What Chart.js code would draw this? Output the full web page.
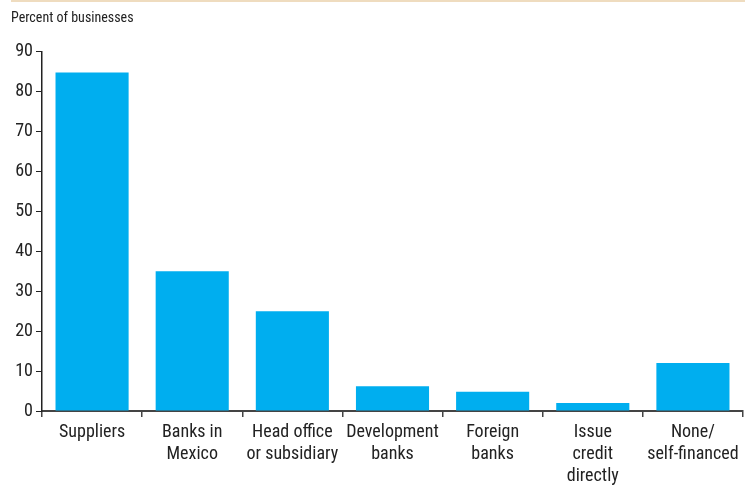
<!DOCTYPE html>
<html>
<head>
<meta charset="utf-8">
<script src="https://cdn.jsdelivr.net/npm/chart.js@4.4.0/dist/chart.umd.min.js"></script>
<style>
  html, body { margin: 0; padding: 0; background: #fff; }
  #wrap { position: relative; width: 745px; height: 485px; }
  #topline { position: absolute; left: 11px; right: 0; top: 0; height: 2px; background: #efdcbf; }
</style>
</head>
<body>
<div id="wrap">
  <div id="topline"></div>
  <canvas id="fundingChart" width="745" height="485"></canvas>
</div>
<script>
// Kategori etiketleri (çok satırlı)
const categories = [
    ['Suppliers'],
    ['Banks in', 'Mexico'],
    ['Head office', 'or subsidiary'],
    ['Development', 'banks'],
    ['Foreign', 'banks'],
    ['Issue', 'credit', 'directly'],
    ['None/', 'self-financed']
];
// Yüzde değerleri
const shares = [84.8, 35, 25, 6.2, 4.8, 2, 12];
const yTicks = [0, 10, 20, 30, 40, 50, 60, 70, 80, 90];

const fontFamily = '"Liberation Sans Narrow", "Roboto Condensed", "Liberation Sans", sans-serif';

function createFundingChart() {
    const ctx = document.getElementById('fundingChart');
    if (!ctx) return;
    new Chart(ctx, {
        type: 'bar',
        data: {
            labels: categories,
            datasets: [{
                label: 'Percent of businesses',
                data: shares,
                backgroundColor: '#00aeef',
                borderWidth: 0,
                categoryPercentage: 0.73,
                barPercentage: 1.0
            }]
        },
        options: {
            responsive: false,
            animation: false,
            layout: { padding: { left: 11, right: 2, top: 6, bottom: 0 } },
            scales: {
                x: {
                    afterFit: function(scale) { scale.height = 74; },
                    grid: {
                        offset: true,
                        drawOnChartArea: false,
                        drawTicks: true,
                        tickLength: 6,
                        color: '#444',
                        lineWidth: 1.5
                    },
                    border: { color: '#444', width: 2 },
                    ticks: {
                        color: '#222',
                        font: { family: fontFamily, size: 18, lineHeight: 1.2 },
                        padding: 5,
                        maxRotation: 0,
                        autoSkip: false
                    }
                },
                y: {
                    min: 0,
                    max: 90,
                    afterBuildTicks: function(scale) {
                        scale.ticks = yTicks.map(v => ({ value: v }));
                    },
                    afterFit: function(scale) { scale.width = 31; },
                    grid: {
                        drawOnChartArea: false,
                        drawTicks: true,
                        tickLength: 6,
                        color: '#222'
                    },
                    border: { color: '#222', width: 1.5 },
                    ticks: {
                        color: '#222',
                        font: { family: fontFamily, size: 18 },
                        padding: 3
                    }
                }
            },
            plugins: {
                legend: { display: false },
                tooltip: { enabled: false },
                title: {
                    display: true,
                    text: 'Percent of businesses',
                    align: 'start',
                    color: '#222',
                    font: { family: fontFamily, size: 14, weight: 'normal' },
                    padding: { top: 4, bottom: 25 }
                }
            }
        }
    });
}

createFundingChart();
</script>
</body>
</html>
